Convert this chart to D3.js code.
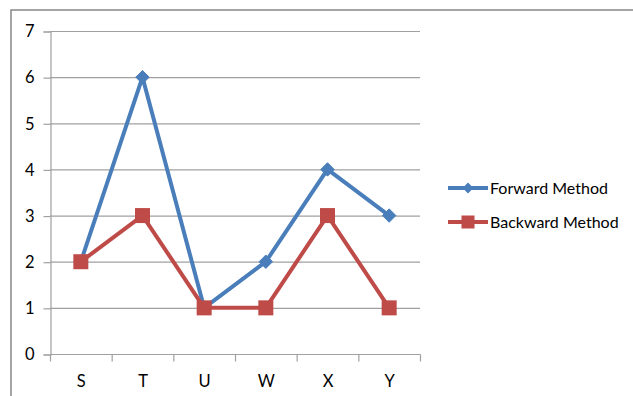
<!DOCTYPE html>
<html>
<head>
<meta charset="utf-8">
<script src="https://cdn.jsdelivr.net/npm/d3@7"></script>
<style>
  html, body { margin: 0; padding: 0; background: #fff; }
  svg { display: block; }
  text { font-family: Lato, "Open Sans", sans-serif; fill: #000; }
</style>
</head>
<body>
<svg id="chart" width="633" height="396"></svg>
<script>
// Categories and series
const categories = ["S", "T", "U", "W", "X", "Y"];
const forwardMethod = [2, 6, 1, 2, 4, 3];
const backwardMethod = [2, 3, 1, 1, 3, 1];
const yTicks = [0, 1, 2, 3, 4, 5, 6, 7];
const seriesNames = ["Forward Method", "Backward Method"];

const svg = d3.select("#chart");
const W = 633, H = 396;
const labelSize = "16.5px";
const legendSize = "16px";

// Outer chart frame
svg.append("rect")
  .attr("x", 11).attr("y", 10)
  .attr("width", W + 10).attr("height", H + 10)
  .attr("fill", "#fff").attr("stroke", "#878787").attr("stroke-width", 1.5);

const plot = { left: 50, right: 420, top: 31, bottom: 354 };

const x = d3.scaleBand().domain(categories).range([plot.left, plot.right]).padding(0);
const y = d3.scaleLinear().domain([0, 7]).range([plot.bottom, plot.top]);

// Horizontal gridlines
svg.append("g")
  .selectAll("line")
  .data(yTicks.filter(d => d > 0))
  .join("line")
  .attr("x1", plot.left).attr("x2", plot.right)
  .attr("y1", d => y(d) + 0.5).attr("y2", d => y(d) + 0.5)
  .attr("stroke", "#a0a0a0").attr("stroke-width", 1.2);

// Y axis
const yAxis = svg.append("g")
  .attr("transform", `translate(${plot.left + 0.5},0.5)`)
  .call(d3.axisLeft(y).tickValues(yTicks).tickFormat(d3.format("d")).tickSize(7).tickPadding(9));
yAxis.attr("font-size", null).attr("font-family", null);
yAxis.select(".domain").attr("stroke", "#a0a0a0").attr("stroke-width", 1.2);
yAxis.selectAll(".tick line").attr("stroke", "#a0a0a0").attr("stroke-width", 1.2);
yAxis.selectAll(".tick text")
  .style("font-size", labelSize).attr("fill", "#000");

// X axis: ticks at category boundaries
const xAxisG = svg.append("g").attr("transform", `translate(0.5,${plot.bottom + 0.5})`);
const boundaries = categories.map(c => x(c)).concat([plot.right]);
xAxisG.append("line")
  .attr("x1", plot.left).attr("x2", plot.right)
  .attr("stroke", "#a0a0a0").attr("stroke-width", 1.2);
xAxisG.selectAll(".bt")
  .data(boundaries)
  .join("line")
  .attr("class", "bt")
  .attr("x1", d => d).attr("x2", d => d)
  .attr("y1", 0).attr("y2", 7)
  .attr("stroke", "#a0a0a0").attr("stroke-width", 1.2);
xAxisG.selectAll("text")
  .data(categories)
  .join("text")
  .attr("x", d => x(d) + x.bandwidth() / 2)
  .attr("y", 32)
  .attr("text-anchor", "middle")
  .style("font-size", labelSize)
  .text(d => d);

const cx = c => x(c) + x.bandwidth() / 2;
const line = d3.line().x((d, i) => cx(categories[i])).y(d => y(d));

const blue = "#4a7ebb", red = "#be4b48";

// Forward Method
svg.append("path")
  .datum(forwardMethod)
  .attr("d", line)
  .attr("fill", "none").attr("stroke", blue).attr("stroke-width", 4)
  .attr("stroke-linejoin", "round");
svg.append("g").selectAll("path")
  .data(forwardMethod)
  .join("path")
  .attr("d", d3.symbol(d3.symbolDiamond2, 115))
  .attr("transform", (d, i) => `translate(${cx(categories[i])},${y(d)})`)
  .attr("fill", blue).attr("stroke", blue).attr("stroke-width", 1);

// Backward Method
svg.append("path")
  .datum(backwardMethod)
  .attr("d", line)
  .attr("fill", "none").attr("stroke", red).attr("stroke-width", 4)
  .attr("stroke-linejoin", "round");
svg.append("g").selectAll("rect")
  .data(backwardMethod)
  .join("rect")
  .attr("x", (d, i) => cx(categories[i]) - 7.5)
  .attr("y", d => y(d) - 7.5)
  .attr("width", 15).attr("height", 15)
  .attr("fill", red);

// Legend
const legend = svg.append("g");
const legendRows = [
  { name: seriesNames[0], color: blue, y: 188, marker: "diamond" },
  { name: seriesNames[1], color: red, y: 222, marker: "square" }
];
legendRows.forEach(r => {
  legend.append("line")
    .attr("x1", 448).attr("x2", 488)
    .attr("y1", r.y).attr("y2", r.y)
    .attr("stroke", r.color).attr("stroke-width", 4);
  if (r.marker === "diamond") {
    legend.append("path")
      .attr("d", d3.symbol(d3.symbolDiamond2, 75))
      .attr("transform", `translate(468,${r.y})`)
      .attr("fill", r.color);
  } else {
    legend.append("rect")
      .attr("x", 468 - 6.5).attr("y", r.y - 6.5)
      .attr("width", 13).attr("height", 13)
      .attr("fill", r.color);
  }
  legend.append("text")
    .attr("x", 490).attr("y", r.y + 6)
    .style("font-size", legendSize)
    .text(r.name);
});
</script>
</body>
</html>
